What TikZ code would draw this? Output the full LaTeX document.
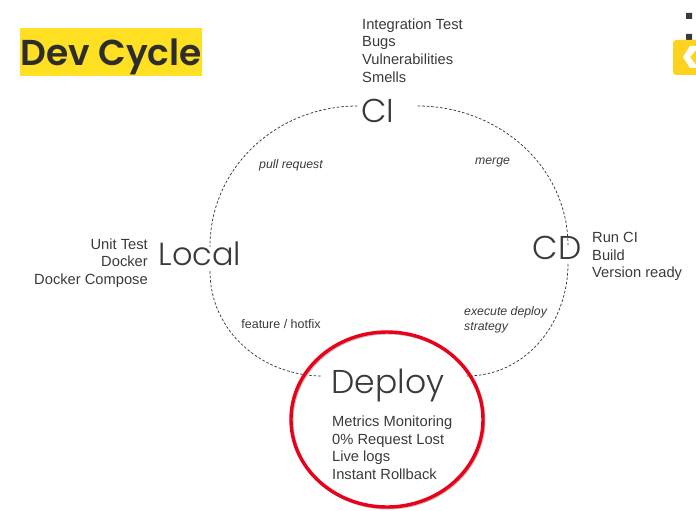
\documentclass[tikz,border=0pt]{standalone}
\usepackage{fontspec}
\setmainfont{Liberation Sans}
\newfontfamily\headfont{Poppins Light}
\newfontfamily\titlefont{Poppins SemiBold}
\usetikzlibrary{positioning,calc,shapes.geometric}
\definecolor{inkgray}{HTML}{3A3A3A}
\definecolor{titlegray}{HTML}{2D2D2D}
\definecolor{markyellow}{HTML}{FFE022}
\definecolor{logoyellow}{HTML}{FFD21F}
\definecolor{ringred}{HTML}{EA0019}
\tikzset{
  stage/.style={font=\headfont\fontsize{#1}{#1}\selectfont,text=inkgray,inner sep=2pt},
  notes/.style={font=\fontsize{14.7}{17.7}\selectfont,text=inkgray,inner sep=0pt},
  cyclelabel/.style={font=\fontsize{12.5}{15}\selectfont,text=inkgray,inner sep=0pt},
  cycleitalic/.style={font=\itshape\fontsize{12.3}{15}\selectfont,text=inkgray,inner sep=0pt},
  cycleline/.style={dash pattern=on 2.6pt off 1.9pt,draw=inkgray,line width=.75pt},
}
\begin{document}
\begin{tikzpicture}[x=1pt,y=-1pt]
  \useasboundingbox (0,0) rectangle (696,511);
  % title
  \node[fill=markyellow,minimum width=182pt,minimum height=48pt,inner sep=0pt] (title) at (111,52) {};
  \node[font=\titlefont\fontsize{36}{36}\selectfont,text=titlegray,inner sep=0pt] (titletext) at (111,57) {Dev Cycle};
  % stages
  \node[stage=33] (ci) at (378,111) {CI};
  \node[stage=32] (local) at (200,254) {Local};
  \node[stage=33] (cd) at (557,248) {CD};
  \node[stage=33] (deploy) at (388,386) {Deploy};
  % notes
  \node[notes,align=left,anchor=south west] (cinotes) at (362,82.5) {Integration Test\\Bugs\\Vulnerabilities\\Smells};
  \node[notes,align=right,anchor=east] (localnotes) at (148,263) {Unit Test\\Docker\\Docker Compose};
  \node[notes,align=left,anchor=west] (cdnotes) at (592,256.5) {Run CI\\Build\\Version ready};
  \node[notes,align=left,anchor=north west] (deploynotes) at (332,415.5) {Metrics Monitoring\\0\% Request Lost\\Live logs\\Instant Rollback};
  % cycle
  \draw[cycleline] ([xshift=-2pt,yshift=5pt]ci.west) to[out=180,in=90] ([xshift=10pt,yshift=-7pt]local.north);
  \draw[cycleline] ([xshift=21pt,yshift=5pt]ci.east) to[out=0,in=90] ([xshift=11pt,yshift=-12pt]cd.north);
  \draw[cycleline] ([xshift=11pt,yshift=-2pt]cd.south) to[out=-90,in=0] ([xshift=20pt,yshift=10pt]deploy.east);
  \draw[cycleline] ([xshift=10pt,yshift=-3pt]local.south) to[out=-90,in=180] ([xshift=-7pt,yshift=10pt]deploy.west);
  \node[cycleitalic] (pull) at (291,165) {pull request};
  \node[cycleitalic] (merge) at (492.5,162.5) {merge};
  \node[cyclelabel] (feature) at (281,324) {feature / hotfix};
  \node[cycleitalic,align=left,anchor=west] (execute) at (464,320) {execute deploy\\strategy};
  % ring
  \node[ellipse,draw=black!25,line width=3pt,minimum width=192pt,minimum height=175pt,inner sep=0pt] (ringshade) at (388,420.5) {};
  \node[ellipse,draw=ringred,line width=3.4pt,minimum width=192pt,minimum height=175pt,inner sep=0pt] (ring) at (387,419.5) {};
  % logo corner
  \fill[inkgray] (686,13) rectangle (692,19) (686,34) rectangle (692,40);
  \fill[logoyellow,rounded corners=3pt] (673,40) rectangle (710,75);
  \fill[white] (683,57) -- (690,46) -- (696,46) -- (696,50) -- (690,57) -- (696,65) -- (696,68) -- (690,68) -- cycle;
\end{tikzpicture}
\end{document}
